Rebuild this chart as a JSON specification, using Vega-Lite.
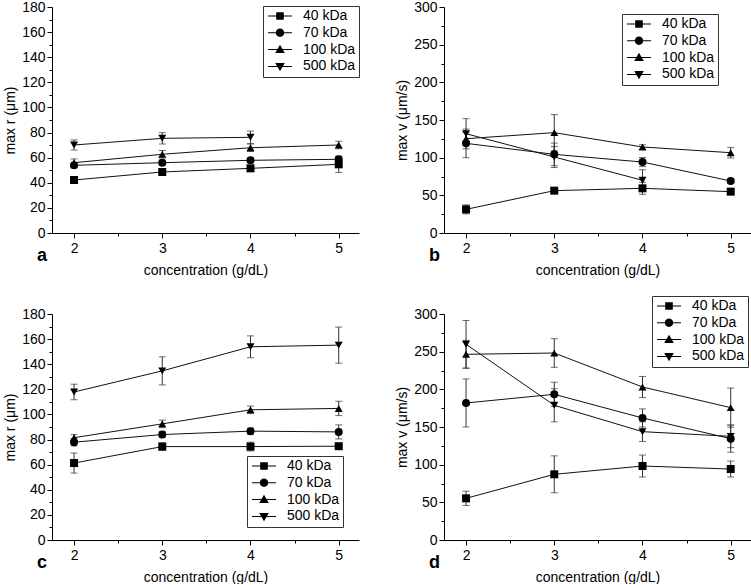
{
  "$schema": "https://vega.github.io/schema/vega-lite/v6.json",
  "padding": {"left": 3, "top": 0, "right": 0, "bottom": 0},
  "background": "white",
  "datasets": {
    "a": [
      {"mw": "40 kDa", "conc": 2, "v": 42.2, "err": 1.5},
      {"mw": "40 kDa", "conc": 3, "v": 48.6, "err": 1.5},
      {"mw": "40 kDa", "conc": 4, "v": 51.5, "err": 1.5},
      {"mw": "40 kDa", "conc": 5, "v": 54.7, "err": 6.5},
      {"mw": "70 kDa", "conc": 2, "v": 53.9, "err": 2},
      {"mw": "70 kDa", "conc": 3, "v": 56.0, "err": 2},
      {"mw": "70 kDa", "conc": 4, "v": 57.9, "err": 2},
      {"mw": "70 kDa", "conc": 5, "v": 58.7, "err": 2},
      {"mw": "100 kDa", "conc": 2, "v": 56.0, "err": 3},
      {"mw": "100 kDa", "conc": 3, "v": 62.7, "err": 3},
      {"mw": "100 kDa", "conc": 4, "v": 67.9, "err": 3},
      {"mw": "100 kDa", "conc": 5, "v": 70.1, "err": 3},
      {"mw": "500 kDa", "conc": 2, "v": 70.1, "err": 4},
      {"mw": "500 kDa", "conc": 3, "v": 75.4, "err": 4.5},
      {"mw": "500 kDa", "conc": 4, "v": 76.2, "err": 5}
    ],
    "b": [
      {"mw": "40 kDa", "conc": 2, "v": 31.4, "err": 6},
      {"mw": "40 kDa", "conc": 3, "v": 56.2, "err": 3},
      {"mw": "40 kDa", "conc": 4, "v": 59.3, "err": 8},
      {"mw": "40 kDa", "conc": 5, "v": 54.9, "err": 3},
      {"mw": "70 kDa", "conc": 2, "v": 119, "err": 19},
      {"mw": "70 kDa", "conc": 3, "v": 104.4, "err": 15},
      {"mw": "70 kDa", "conc": 4, "v": 94.2, "err": 6},
      {"mw": "70 kDa", "conc": 5, "v": 69, "err": 3},
      {"mw": "100 kDa", "conc": 2, "v": 125.2, "err": 8},
      {"mw": "100 kDa", "conc": 3, "v": 133.2, "err": 24},
      {"mw": "100 kDa", "conc": 4, "v": 114.2, "err": 3},
      {"mw": "100 kDa", "conc": 5, "v": 106.6, "err": 7},
      {"mw": "500 kDa", "conc": 2, "v": 131.8, "err": 20},
      {"mw": "500 kDa", "conc": 3, "v": 100.9, "err": 14},
      {"mw": "500 kDa", "conc": 4, "v": 70, "err": 14}
    ],
    "c": [
      {"mw": "40 kDa", "conc": 2, "v": 61.3, "err": 8},
      {"mw": "40 kDa", "conc": 3, "v": 74.4, "err": 3},
      {"mw": "40 kDa", "conc": 4, "v": 74.4, "err": 3.5},
      {"mw": "40 kDa", "conc": 5, "v": 74.7, "err": 1.5},
      {"mw": "70 kDa", "conc": 2, "v": 77.9, "err": 3},
      {"mw": "70 kDa", "conc": 3, "v": 84, "err": 2.5},
      {"mw": "70 kDa", "conc": 4, "v": 86.7, "err": 2.5},
      {"mw": "70 kDa", "conc": 5, "v": 86.1, "err": 5.6},
      {"mw": "100 kDa", "conc": 2, "v": 81.5, "err": 2.5},
      {"mw": "100 kDa", "conc": 3, "v": 92.5, "err": 3},
      {"mw": "100 kDa", "conc": 4, "v": 103.7, "err": 3},
      {"mw": "100 kDa", "conc": 5, "v": 104.8, "err": 5.7},
      {"mw": "500 kDa", "conc": 2, "v": 117.9, "err": 6.2},
      {"mw": "500 kDa", "conc": 3, "v": 134.7, "err": 11.2},
      {"mw": "500 kDa", "conc": 4, "v": 153.9, "err": 8.7},
      {"mw": "500 kDa", "conc": 5, "v": 155.2, "err": 14.4}
    ],
    "d": [
      {"mw": "40 kDa", "conc": 2, "v": 55.3, "err": 9.5},
      {"mw": "40 kDa", "conc": 3, "v": 87.2, "err": 24.5},
      {"mw": "40 kDa", "conc": 4, "v": 98.2, "err": 14.6},
      {"mw": "40 kDa", "conc": 5, "v": 94.2, "err": 10.6},
      {"mw": "70 kDa", "conc": 2, "v": 181.9, "err": 31.9},
      {"mw": "70 kDa", "conc": 3, "v": 193.4, "err": 16},
      {"mw": "70 kDa", "conc": 4, "v": 162, "err": 12},
      {"mw": "70 kDa", "conc": 5, "v": 134.5, "err": 18},
      {"mw": "100 kDa", "conc": 2, "v": 246.5, "err": 18.5},
      {"mw": "100 kDa", "conc": 3, "v": 248.2, "err": 19},
      {"mw": "100 kDa", "conc": 4, "v": 203.1, "err": 14},
      {"mw": "100 kDa", "conc": 5, "v": 175.7, "err": 26},
      {"mw": "500 kDa", "conc": 2, "v": 259.8, "err": 31.6},
      {"mw": "500 kDa", "conc": 3, "v": 178.8, "err": 22},
      {"mw": "500 kDa", "conc": 4, "v": 143.8, "err": 13},
      {"mw": "500 kDa", "conc": 5, "v": 137.6, "err": 15}
    ]
  },
  "columns": 2,
  "spacing": {"row": 81, "column": 85},
  "bounds": "flush",
  "concat": [
    {
      "width": 307,
      "height": 226,
      "data": {"name": "a"},
      "title": {"text": "a"},
      "encoding": {
        "x": {"field": "conc", "type": "quantitative", "scale": {"domain": [1.75, 5.23], "nice": false, "zero": false},
          "axis": {"title": "concentration (g/dL)", "values": [2, 2.5, 3, 3.5, 4, 4.5, 5],
            "labelExpr": "datum.value % 1 == 0 ? format(datum.value, 'd') : ''",
            "tickSize": {"condition": {"test": "datum.value % 1 == 0", "value": 5}, "value": 3}}},
        "y": {"field": "v", "type": "quantitative", "scale": {"domain": [0, 180], "nice": false},
          "axis": {"title": "max r (μm)", "values": [0, 10, 20, 30, 40, 50, 60, 70, 80, 90, 100, 110, 120, 130, 140, 150, 160, 170, 180],
            "labelExpr": "datum.value % 20 == 0 ? datum.label : ''",
            "tickSize": {"condition": {"test": "datum.value % 20 == 0", "value": 5}, "value": 3}}}
      },
      "layer": [
        {"mark": {"type": "errorbar", "ticks": {"size": 7}, "color": "#333", "thickness": 1}, "encoding": {"yError": {"field": "err"}, "detail": {"field": "mw"}}},
        {"mark": {"type": "line", "color": "#111", "strokeWidth": 1}, "encoding": {"detail": {"field": "mw"}}},
        {"mark": {"type": "point", "filled": true, "color": "black", "opacity": 1, "size": 64},
          "encoding": {"shape": {"field": "mw", "type": "nominal", "legend": null,
            "scale": {"domain": ["40 kDa", "70 kDa", "100 kDa", "500 kDa"], "range": ["square", "circle", "triangle-up", "triangle-down"]}}}},
        {"mark": {"type": "point", "filled": true, "color": "black", "opacity": 0},
          "encoding": {"shape": {"field": "mw", "type": "nominal",
            "scale": {"domain": ["40 kDa", "70 kDa", "100 kDa", "500 kDa"], "range": ["M-3,-0.13H3V0.13H-3ZM-0.95,-0.95H0.95V0.95H-0.95Z", "M-3,-0.13H3V0.13H-3ZM-1.05,0A1.05,1.05,0,1,1,1.05,0A1.05,1.05,0,1,1,-1.05,0Z", "M-3,-0.13H3V0.13H-3ZM0,-1.2L1.2,0.85H-1.2Z", "M-3,-0.13H3V0.13H-3ZM0,1.2L-1.2,-0.85H1.2Z"]},
            "legend": {"legendX": 211, "legendY": -1}}}}
      ],
      "resolve": {"scale": {"shape": "independent"}}
    },
    {
      "width": 307,
      "height": 226,
      "data": {"name": "b"},
      "title": {"text": "b"},
      "encoding": {
        "x": {"field": "conc", "type": "quantitative", "scale": {"domain": [1.75, 5.23], "nice": false, "zero": false},
          "axis": {"title": "concentration (g/dL)", "values": [2, 2.5, 3, 3.5, 4, 4.5, 5],
            "labelExpr": "datum.value % 1 == 0 ? format(datum.value, 'd') : ''",
            "tickSize": {"condition": {"test": "datum.value % 1 == 0", "value": 5}, "value": 3}}},
        "y": {"field": "v", "type": "quantitative", "scale": {"domain": [0, 300], "nice": false},
          "axis": {"title": "max v (μm/s)", "values": [0, 25, 50, 75, 100, 125, 150, 175, 200, 225, 250, 275, 300],
            "labelExpr": "datum.value % 50 == 0 ? datum.label : ''",
            "tickSize": {"condition": {"test": "datum.value % 50 == 0", "value": 5}, "value": 3}}}
      },
      "layer": [
        {"mark": {"type": "errorbar", "ticks": {"size": 7}, "color": "#333", "thickness": 1}, "encoding": {"yError": {"field": "err"}, "detail": {"field": "mw"}}},
        {"mark": {"type": "line", "color": "#111", "strokeWidth": 1}, "encoding": {"detail": {"field": "mw"}}},
        {"mark": {"type": "point", "filled": true, "color": "black", "opacity": 1, "size": 64},
          "encoding": {"shape": {"field": "mw", "type": "nominal", "legend": null,
            "scale": {"domain": ["40 kDa", "70 kDa", "100 kDa", "500 kDa"], "range": ["square", "circle", "triangle-up", "triangle-down"]}}}},
        {"mark": {"type": "point", "filled": true, "color": "black", "opacity": 0},
          "encoding": {"shape": {"field": "mw", "type": "nominal",
            "scale": {"domain": ["40 kDa", "70 kDa", "100 kDa", "500 kDa"], "range": ["M-3,-0.13H3V0.13H-3ZM-0.95,-0.95H0.95V0.95H-0.95Z", "M-3,-0.13H3V0.13H-3ZM-1.05,0A1.05,1.05,0,1,1,1.05,0A1.05,1.05,0,1,1,-1.05,0Z", "M-3,-0.13H3V0.13H-3ZM0,-1.2L1.2,0.85H-1.2Z", "M-3,-0.13H3V0.13H-3ZM0,1.2L-1.2,-0.85H1.2Z"]},
            "legend": {"legendX": 178, "legendY": 7}}}}
      ],
      "resolve": {"scale": {"shape": "independent"}}
    },
    {
      "width": 307,
      "height": 226,
      "data": {"name": "c"},
      "title": {"text": "c"},
      "encoding": {
        "x": {"field": "conc", "type": "quantitative", "scale": {"domain": [1.75, 5.23], "nice": false, "zero": false},
          "axis": {"title": "concentration (g/dL)", "values": [2, 2.5, 3, 3.5, 4, 4.5, 5],
            "labelExpr": "datum.value % 1 == 0 ? format(datum.value, 'd') : ''",
            "tickSize": {"condition": {"test": "datum.value % 1 == 0", "value": 5}, "value": 3}}},
        "y": {"field": "v", "type": "quantitative", "scale": {"domain": [0, 180], "nice": false},
          "axis": {"title": "max r (μm)", "values": [0, 10, 20, 30, 40, 50, 60, 70, 80, 90, 100, 110, 120, 130, 140, 150, 160, 170, 180],
            "labelExpr": "datum.value % 20 == 0 ? datum.label : ''",
            "tickSize": {"condition": {"test": "datum.value % 20 == 0", "value": 5}, "value": 3}}}
      },
      "layer": [
        {"mark": {"type": "errorbar", "ticks": {"size": 7}, "color": "#333", "thickness": 1}, "encoding": {"yError": {"field": "err"}, "detail": {"field": "mw"}}},
        {"mark": {"type": "line", "color": "#111", "strokeWidth": 1}, "encoding": {"detail": {"field": "mw"}}},
        {"mark": {"type": "point", "filled": true, "color": "black", "opacity": 1, "size": 64},
          "encoding": {"shape": {"field": "mw", "type": "nominal", "legend": null,
            "scale": {"domain": ["40 kDa", "70 kDa", "100 kDa", "500 kDa"], "range": ["square", "circle", "triangle-up", "triangle-down"]}}}},
        {"mark": {"type": "point", "filled": true, "color": "black", "opacity": 0},
          "encoding": {"shape": {"field": "mw", "type": "nominal",
            "scale": {"domain": ["40 kDa", "70 kDa", "100 kDa", "500 kDa"], "range": ["M-3,-0.13H3V0.13H-3ZM-0.95,-0.95H0.95V0.95H-0.95Z", "M-3,-0.13H3V0.13H-3ZM-1.05,0A1.05,1.05,0,1,1,1.05,0A1.05,1.05,0,1,1,-1.05,0Z", "M-3,-0.13H3V0.13H-3ZM0,-1.2L1.2,0.85H-1.2Z", "M-3,-0.13H3V0.13H-3ZM0,1.2L-1.2,-0.85H1.2Z"]},
            "legend": {"legendX": 195, "legendY": 142}}}}
      ],
      "resolve": {"scale": {"shape": "independent"}}
    },
    {
      "width": 307,
      "height": 226,
      "data": {"name": "d"},
      "title": {"text": "d"},
      "encoding": {
        "x": {"field": "conc", "type": "quantitative", "scale": {"domain": [1.75, 5.23], "nice": false, "zero": false},
          "axis": {"title": "concentration (g/dL)", "values": [2, 2.5, 3, 3.5, 4, 4.5, 5],
            "labelExpr": "datum.value % 1 == 0 ? format(datum.value, 'd') : ''",
            "tickSize": {"condition": {"test": "datum.value % 1 == 0", "value": 5}, "value": 3}}},
        "y": {"field": "v", "type": "quantitative", "scale": {"domain": [0, 300], "nice": false},
          "axis": {"title": "max v (μm/s)", "values": [0, 25, 50, 75, 100, 125, 150, 175, 200, 225, 250, 275, 300],
            "labelExpr": "datum.value % 50 == 0 ? datum.label : ''",
            "tickSize": {"condition": {"test": "datum.value % 50 == 0", "value": 5}, "value": 3}}}
      },
      "layer": [
        {"mark": {"type": "errorbar", "ticks": {"size": 7}, "color": "#333", "thickness": 1}, "encoding": {"yError": {"field": "err"}, "detail": {"field": "mw"}}},
        {"mark": {"type": "line", "color": "#111", "strokeWidth": 1}, "encoding": {"detail": {"field": "mw"}}},
        {"mark": {"type": "point", "filled": true, "color": "black", "opacity": 1, "size": 64},
          "encoding": {"shape": {"field": "mw", "type": "nominal", "legend": null,
            "scale": {"domain": ["40 kDa", "70 kDa", "100 kDa", "500 kDa"], "range": ["square", "circle", "triangle-up", "triangle-down"]}}}},
        {"mark": {"type": "point", "filled": true, "color": "black", "opacity": 0},
          "encoding": {"shape": {"field": "mw", "type": "nominal",
            "scale": {"domain": ["40 kDa", "70 kDa", "100 kDa", "500 kDa"], "range": ["M-3,-0.13H3V0.13H-3ZM-0.95,-0.95H0.95V0.95H-0.95Z", "M-3,-0.13H3V0.13H-3ZM-1.05,0A1.05,1.05,0,1,1,1.05,0A1.05,1.05,0,1,1,-1.05,0Z", "M-3,-0.13H3V0.13H-3ZM0,-1.2L1.2,0.85H-1.2Z", "M-3,-0.13H3V0.13H-3ZM0,1.2L-1.2,-0.85H1.2Z"]},
            "legend": {"legendX": 208, "legendY": -18}}}}
      ],
      "resolve": {"scale": {"shape": "independent"}}
    }
  ],
  "config": {
    "view": {"stroke": null},
    "font": "Liberation Sans",
    "axis": {
      "grid": false, "domainColor": "black", "tickColor": "black", "labelColor": "black", "titleColor": "black",
      "labelFont": "Liberation Sans", "titleFont": "Liberation Sans", "labelFontSize": 14, "titleFontSize": 14,
      "titleFontWeight": "normal", "labelOverlap": false, "labelFlush": false, "labelPadding": 2
    },
    "axisX": {"titlePadding": 8, "labelPadding": 3},
    "axisY": {"titlePadding": 4},
    "legend": {
      "title": null, "orient": "none", "strokeColor": "#333", "fillColor": "white", "padding": 3,
      "labelFont": "Liberation Sans", "labelFontSize": 14, "labelColor": "black",
      "symbolSize": 64, "symbolStrokeWidth": 0, "symbolFillColor": "black",
      "symbolOffset": 7, "labelOffset": 16, "rowPadding": 2.8
    },
    "title": {
      "orient": "bottom", "anchor": "start", "frame": "group", "font": "Liberation Sans", "fontSize": 18,
      "fontWeight": "bold", "color": "black", "baseline": "alphabetic", "offset": 0, "dx": -15, "dy": -34
    }
  }
}
